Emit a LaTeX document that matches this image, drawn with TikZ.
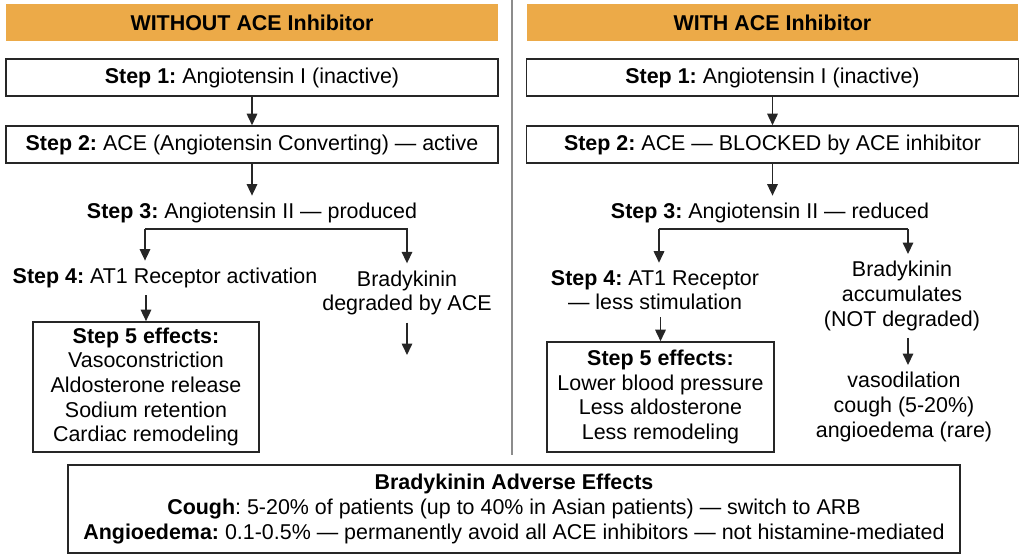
\documentclass[tikz,border=0pt]{standalone}
\usepackage{fontspec}
\setmainfont{Liberation Sans}
\usetikzlibrary{positioning,calc,arrows.meta}
\definecolor{headorange}{RGB}{236,170,72}
\frenchspacing
\tikzset{font=\fontsize{12.2}{14}\selectfont}
\tikzset{
	head/.style={fill=headorange, minimum width=9.84cm, minimum height=0.74cm, font=\fontsize{12.2}{14}\selectfont\bfseries},
	stepbox/.style={draw=black!85, line width=0.9pt, fill=white, minimum width=9.84cm, minimum height=0.74cm},
	effbox/.style={draw=black!85, line width=0.9pt, fill=white, align=center},
	txt/.style={align=center, inner sep=4pt},
	arr/.style={-{Triangle[length=2.3mm,width=2.1mm]}, line width=0.9pt, black!85},
}

\begin{document}
\begin{tikzpicture}[x=0.02cm, y=-0.02cm]
	\useasboundingbox (0,0) rectangle (1024,559);
	\draw[black!45, line width=1pt] (512,0) -- (512,455);

	% without inhibitor
	\node[head] (lh) at (252,22.5) {WITHOUT ACE Inhibitor};
	\node[stepbox] (l1) at (252,77.5) {\textbf{Step 1:} Angiotensin I (inactive)};
	\node[stepbox] (l2) at (252,144.5) {\textbf{Step 2:} ACE (Angiotensin Converting) — active};
	\node[txt] (l3) at (252,213) {\textbf{Step 3:} Angiotensin II — produced};
	\coordinate (lsp) at (145,229);
	\node[txt] (l4) at (165,278) {\textbf{Step 4:} AT1 Receptor activation};
	\node[txt] (lb) at (407,293) {Bradykinin\\degraded by ACE};
	\coordinate (lbend) at (407,355);
	\node[effbox, minimum width=4.52cm, minimum height=2.6cm] (l5) at (146,387)
		{\textbf{Step 5 effects:}\\Vasoconstriction\\Aldosterone release\\Sodium retention\\Cardiac remodeling};

	\draw[arr] (l1) -- (l2);
	\draw[arr] (l2) -- (l3);
	\draw[arr] (lsp) -- (lsp |- l4.north);
	\draw[arr] (lsp) -| (lb.north);
	\draw[arr] (l5.north |- l4.south) -- (l5.north);
	\draw[arr] (lb.south) -- (lbend);

	% with inhibitor
	\node[head] (rh) at (772.5,22.5) {WITH ACE Inhibitor};
	\node[stepbox] (r1) at (772.5,77.5) {\textbf{Step 1:} Angiotensin I (inactive)};
	\node[stepbox] (r2) at (772.5,144.5) {\textbf{Step 2:} ACE — BLOCKED by ACE inhibitor};
	\node[txt] (r3) at (770,213) {\textbf{Step 3:} Angiotensin II — reduced};
	\coordinate (rsp) at (659,229);
	\coordinate (rsp2) at (908,229);
	\node[txt] (r4) at (655,290) {\textbf{Step 4:} AT1 Receptor\\— less stimulation};
	\node[txt] (rb) at (902,296) {Bradykinin\\accumulates\\(NOT degraded)};
	\node[effbox, minimum width=4.54cm, minimum height=2.2cm] (r5) at (660.5,397)
		{\textbf{Step 5 effects:}\\Lower blood pressure\\Less aldosterone\\Less remodeling};
	\node[txt] (re) at (904,407) {vasodilation\\cough (5-20\%)\\angioedema (rare)};

	\draw[arr] (r1) -- (r2);
	\draw[arr] (r2) -- (r2 |- r3.north);
	\draw[arr] (rsp) -- (rsp |- r4.north);
	\draw[line width=0.9pt, black!85] (rsp) -- (rsp2);
	\draw[arr] (rsp2) -- (rsp2 |- rb.north);
	\draw[arr] (r5.north |- r4.south) -- (r5.north);
	\draw[arr] (rsp2 |- rb.south) -- (rsp2 |- re.north);

	% adverse effects
	\node[effbox, minimum width=17.84cm, minimum height=1.76cm] (adv) at (514,509)
		{\textbf{Bradykinin Adverse Effects}\\
		\textbf{Cough}: 5-20\% of patients (up to 40\% in Asian patients) — switch to ARB\\
		\textbf{Angioedema:} 0.1-0.5\% — permanently avoid all ACE inhibitors — not histamine-mediated};
\end{tikzpicture}
\end{document}
